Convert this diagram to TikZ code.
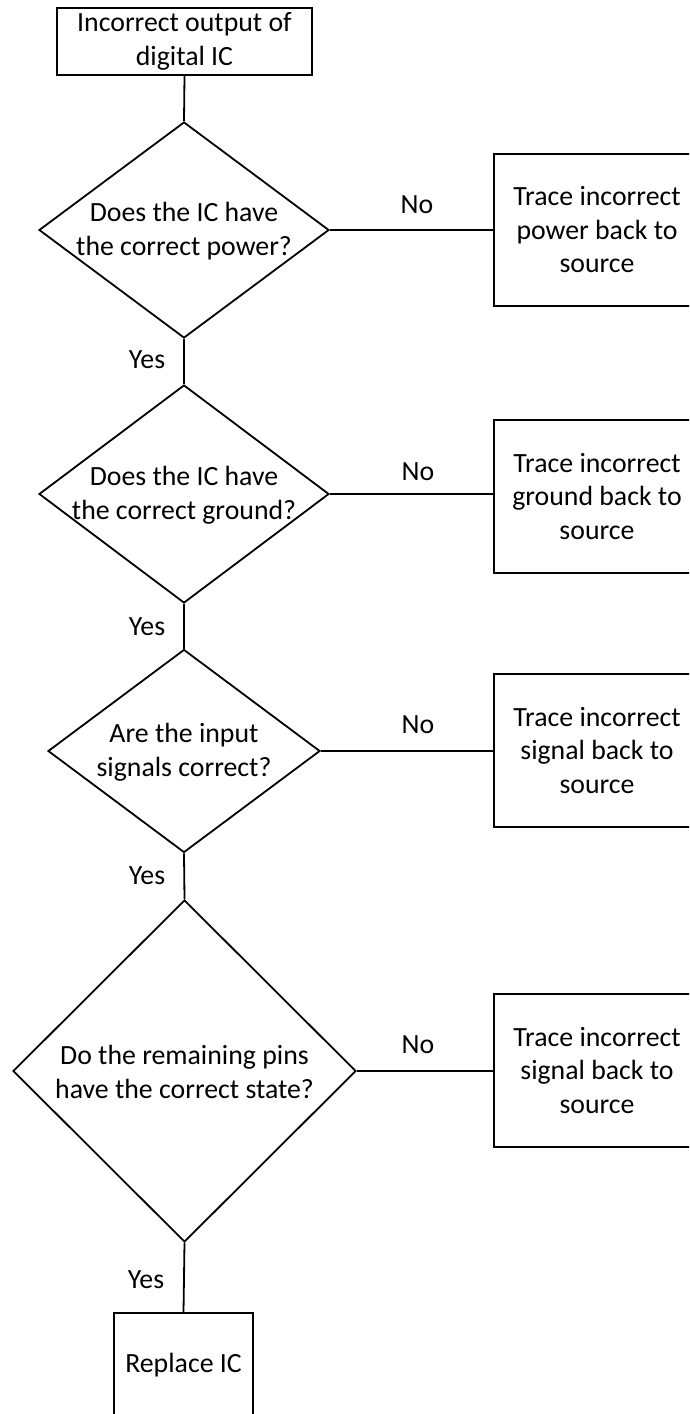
\documentclass[tikz,border=0pt]{standalone}
\usepackage{fontspec}
\setmainfont{Carlito}
\usetikzlibrary{shapes.geometric}
\begin{document}
\begin{tikzpicture}[x=1pt,y=-1pt,
  every node/.style={font=\fontsize{27.8}{33.5}\selectfont},
  box/.style={draw, line width=1.8pt, rectangle, inner sep=0pt, align=center},
  dia/.style={draw, line width=1.8pt, diamond, inner sep=0pt, shape aspect=1},
  txt/.style={align=center, inner sep=0pt},
  lbl/.style={inner sep=0pt},
  conn/.style={line width=1.8pt}]
\useasboundingbox (0,0) rectangle (689,1414);
\clip (0,0) rectangle (689,1414);
\fill[white] (0,0) rectangle (689,1414);

% top box
\node[box, minimum width=255pt, minimum height=67pt] (top) at (184.5,41.5) {Incorrect output of\\digital IC};

% diamonds
\node[dia, minimum width=290pt, minimum height=216pt] (d1) at (184,230) {};
\node[txt] (d1t) at (184,231) {Does the IC have\\the correct power?};
\node[dia, minimum width=290pt, minimum height=218pt] (d2) at (184,494) {};
\node[txt] (d2t) at (184,495) {Does the IC have\\the correct ground?};
\node[dia, minimum width=272pt, minimum height=203pt] (d3) at (184,751) {};
\node[txt] (d3t) at (184,752) {Are the input\\signals correct?};
\node[dia, minimum width=343pt, minimum height=342pt] (d4) at (184.5,1071) {};
\node[txt] (d4t) at (184.5,1072) {Do the remaining pins\\have the correct state?};

% right boxes
\node[box, minimum width=206pt, minimum height=152pt] (b1) at (597,230) {Trace incorrect\\power back to\\source};
\node[box, minimum width=206pt, minimum height=153pt] (b2) at (597,496.5) {Trace incorrect\\ground back to\\source};
\node[box, minimum width=206pt, minimum height=153pt] (b3) at (597,750.5) {Trace incorrect\\signal back to\\source};
\node[box, minimum width=206pt, minimum height=153pt] (b4) at (597,1070.5) {Trace incorrect\\signal back to\\source};

% final box
\node[box, minimum width=139pt, minimum height=104pt] (rep) at (183.5,1365) {Replace IC};

% vertical connectors
\draw[conn] (top.south) -- (d1.north);
\draw[conn] (d1.south) -- (d2.north);
\draw[conn] (d2.south) -- (d3.north);
\draw[conn] (d3.south) -- (d4.north);
\draw[conn] (d4.south) -- (rep.north);

% horizontal connectors
\draw[conn] (d1.east) -- (d1.east -| b1.west);
\draw[conn] (d2.east) -- (d2.east -| b2.west);
\draw[conn] (d3.east) -- (d3.east -| b3.west);
\draw[conn] (d4.east) -- (d4.east -| b4.west);

% labels
\node[lbl] (no1) at (417,205) {No};
\node[lbl] (no2) at (418,472) {No};
\node[lbl] (no3) at (418,725) {No};
\node[lbl] (no4) at (418,1045) {No};
\node[lbl] (yes1) at (147,360) {Yes};
\node[lbl] (yes2) at (147,627) {Yes};
\node[lbl] (yes3) at (147,876) {Yes};
\node[lbl] (yes4) at (146,1280) {Yes};
\end{tikzpicture}
\end{document}
